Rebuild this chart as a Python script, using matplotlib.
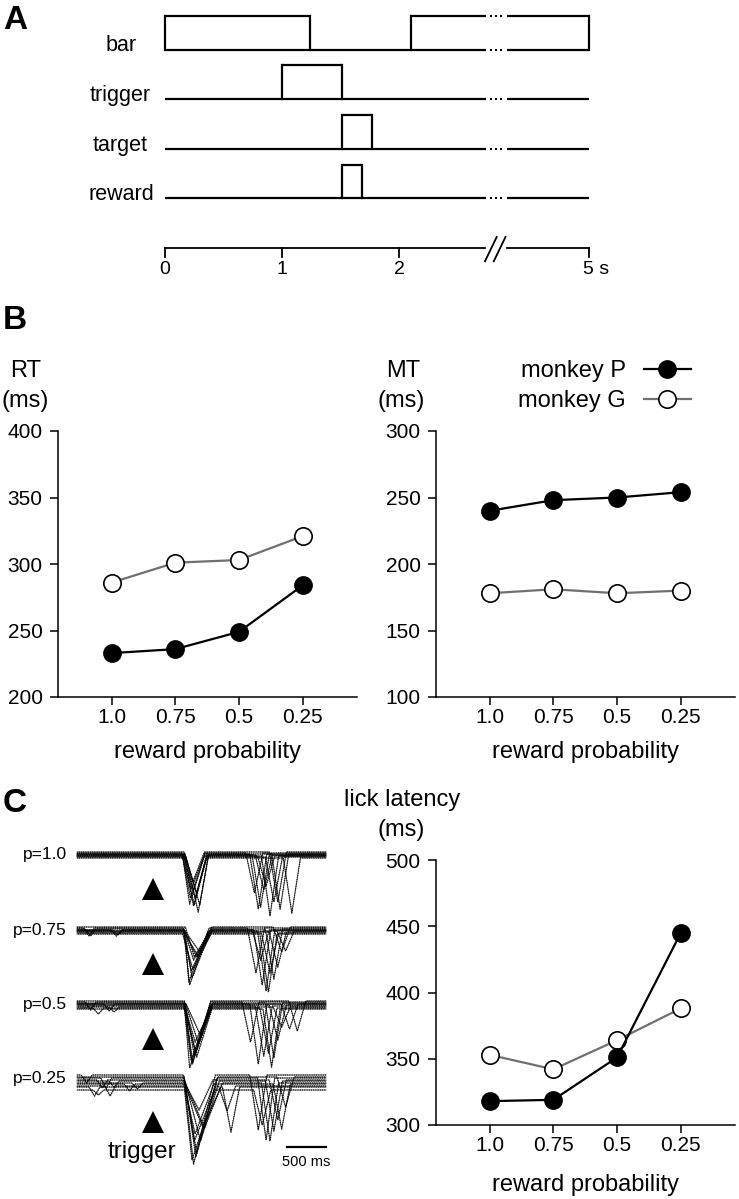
import matplotlib.pyplot as plt
from matplotlib.lines import Line2D

plt.rcParams['font.family'] = ['Liberation Sans', 'DejaVu Sans']

W, H = 739, 1199

# ---------------- data ----------------
# panel A: task timing (s)
rows_a = ['bar', 'trigger', 'target', 'reward']
on_periods = [[(0.0, 1.24), (2.10, 5.0)], [(1.0, 1.51)], [(1.51, 1.77)], [(1.51, 1.68)]]
time_ticks = [0, 1, 2, 5]
time_ticklabels = ['0', '1', '2', '5 s']
T_END = 5.0

# panel B / C: behaviour
probs = ['1.0', '0.75', '0.5', '0.25']
rt_P = [233, 236, 249, 284]
rt_G = [286, 301, 303, 321]
mt_P = [240, 248, 250, 254]
mt_G = [178, 181, 178, 180]
lick_P = [318, 319, 351, 445]
lick_G = [353, 342, 364, 388]

# panel C: lick traces (ms from trigger, deflection in a.u., positive = down)
cond_labels = ['p=1.0', 'p=0.75', 'p=0.5', 'p=0.25']
base_off = [[-2, -1, 0, 1, 2, -3, 1, 0, -1, 3],
            [-2, 0, 1, 3, -1, 2, 4, 0, -3, 1],
            [-2, 0, 2, 4, -1, 1, 3, 0, -3, 5],
            [-3, 0, 3, 6, 9, 12, 2, 5, -1, 8]]
lick1_on = [[370, 390, 410, 380, 420, 400, 395, 415, 405, 385],
            [390, 400, 385, 410, 395, 405, 380, 400, 415, 390],
            [400, 410, 420, 405, 415, 395, 410, 425, 400, 415],
            [390, 400, 410, 395, 420, 405, 385, 415, 400, 410]]
lick1_t = [[480, 520, 560, 470, 580, 510, 540, 600, 490, 530],
           [470, 520, 580, 500, 560, 460, 510, 600, 530, 490],
           [470, 500, 530, 550, 580, 490, 540, 600, 510, 560],
           [520, 560, 610, 540, 640, 500, 590, 660, 550, 530]]
lick1_d = [[45, 52, 38, 48, 55, 30, 42, 50, 35, 47],
           [57, 30, 25, 45, 28, 50, 35, 22, 30, 40],
           [66, 60, 50, 45, 40, 55, 35, 30, 62, 48],
           [89, 75, 60, 50, 40, 70, 30, 45, 80, 55]]
lick1_end = [[670, 690, 700, 660, 710, 660, 690, 710, 665, 685],
             [720, 740, 760, 730, 750, 700, 745, 760, 755, 720],
             [740, 750, 765, 745, 760, 735, 750, 765, 740, 755],
             [800, 820, 850, 780, 870, 800, 770, 890, 830, 810]]
lick2_t = [[1300, 1350, 1420, 1500, 1550, 1600, 1450, 1380, 1630, 1780],
           [1320, 1400, 1450, 1500, 1550, 1600, 1480, 1380, 1650, 1700],
           [1250, 1350, 1420, 1480, 1550, 1600, 1650, 1750, 1850, 1520],
           [1350, 1450, 1550, 1650, 1000, 1400, 1600, 1500, 1700, 950]]
lick2_d = [[40, 55, 35, 60, 45, 50, 30, 52, 55, 55],
           [45, 55, 60, 40, 50, 35, 58, 30, 25, 20],
           [40, 60, 50, 45, 55, 35, 20, 25, 30, 58],
           [55, 62, 50, 45, 45, 35, 40, 58, 30, 25]]
pre_t = [[0] * 10,
         [-820, -470, 0, 0, -800, 0, 0, -450, 0, 0],
         [-800, -560, 0, -700, 0, 0, -500, 0, 0, 0],
         [-850, -600, -500, -300, -750, -700, -650, -200, 0, -550]]
pre_d = [[0] * 10,
         [8, 6, 0, 0, 7, 0, 0, 5, 0, 0],
         [8, 7, 0, 6, 0, 0, 5, 0, 0, 0],
         [8, 10, 6, 7, 9, 5, 8, 6, 0, 10]]
SCALE_MS = 500


def box(l, t, r, b):
    return [l / W, 1 - b / H, (r - l) / W, (b - t) / H]


fig = plt.figure(figsize=(W / 100, H / 100), dpi=100)

# ---------------- panel A ----------------
axA = fig.add_axes(box(0, 0, W, 300))
axA.set_xlim(-165 / 117, (W - 165) / 117)
axA.set_ylim(-(300 - 49.5) / 49.6, 49.5 / 49.6)
axA.axis('off')

CUT, GAP_END, END_POS = 2.74, 2.92, 3.62


def tpos(t):
    if t <= CUT:
        return t
    return CUT + (t - CUT) * (END_POS - CUT) / (T_END - CUT)


def hline(ax, a, b, y):
    pa, pb = tpos(a), tpos(b)
    if pa < CUT and pb > GAP_END:
        ax.plot([pa, CUT], [y, y], color='black', lw=1.6, solid_capstyle='butt')
        ax.plot([GAP_END, pb], [y, y], color='black', lw=1.6, solid_capstyle='butt')
        ax.plot([2.785, 2.83, 2.875], [y] * 3, 's', color='black', ms=1.6, mew=0)
    else:
        ax.plot([pa, pb], [y, y], color='black', lw=1.6, solid_capstyle='butt')


HI = 0.68
label_x = [-0.24, -0.12, -0.145, -0.095]
for i, name in enumerate(rows_a):
    y0 = -i
    hline(axA, 0, T_END, y0)
    for a, b in on_periods[i]:
        hline(axA, a, b, y0 + HI)
        axA.plot([tpos(a)] * 2, [y0, y0 + HI], color='black', lw=1.6)
        axA.plot([tpos(b)] * 2, [y0, y0 + HI], color='black', lw=1.6)
    axA.text(label_x[i], y0 - 0.04, name, ha='right', va='baseline', fontsize=15.5)

# time axis
ya = -4
axA.plot([0, CUT - 0.005], [ya, ya], color='black', lw=1.3)
axA.plot([GAP_END, END_POS], [ya, ya], color='black', lw=1.3)
axA.plot([2.735, 2.835], [ya - 0.27, ya + 0.22], color='black', lw=1.3)
axA.plot([2.81, 2.91], [ya - 0.27, ya + 0.22], color='black', lw=1.3)
for t, lab in zip(time_ticks, time_ticklabels):
    x = tpos(t)
    axA.plot([x, x], [ya, ya - 0.18], color='black', lw=1.3)
    if lab.endswith('s'):
        axA.text(x - 0.05, ya - 0.26, lab, ha='left', va='top', fontsize=14)
    else:
        axA.text(x, ya - 0.26, lab, ha='center', va='top', fontsize=14)

# ---------------- panel B / C right ----------------
xs = [1, 2, 3, 4]


def line_panel(rect, yP, yG, ylim):
    ax = fig.add_axes(box(*rect))
    ax.plot(xs, yG, color='#707070', lw=1.6, marker='o', ms=12.5, mfc='white',
            mec='black', mew=1.2, zorder=3, label='monkey G')
    ax.plot(xs, yP, color='black', lw=1.6, marker='o', ms=12.5, mfc='black',
            mec='black', zorder=4, label='monkey P')
    ax.set_xlim(0.16, 4.85)
    ax.set_ylim(*ylim)
    ax.set_yticks(range(ylim[0], ylim[1] + 1, 50))
    ax.set_xticks(xs)
    ax.set_xticklabels(probs)
    for s in ['top', 'right']:
        ax.spines[s].set_visible(False)
    for s in ['left', 'bottom']:
        ax.spines[s].set_linewidth(1.1)
    ax.tick_params(length=6, width=1.1, labelsize=15)
    ax.tick_params(axis='x', pad=2)
    ax.tick_params(axis='y', pad=5)
    return ax


axRT = line_panel((58, 431, 357, 697), rt_P, rt_G, (200, 400))
axMT = line_panel((436, 431, 735, 697), mt_P, mt_G, (100, 300))
axLK = line_panel((436, 860, 735, 1125), lick_P, lick_G, (300, 500))


def ftext(x, y, s, **kw):
    fig.text(x / W, 1 - y / H, s, **kw)


ftext(26, 371, 'RT', ha='center', va='center', fontsize=17)
ftext(25, 401, '(ms)', ha='center', va='center', fontsize=17)
ftext(403, 371, 'MT', ha='center', va='center', fontsize=17)
ftext(401, 401, '(ms)', ha='center', va='center', fontsize=17)
ftext(402, 800, 'lick latency', ha='center', va='center', fontsize=17)
ftext(401, 830, '(ms)', ha='center', va='center', fontsize=17)
ftext(207, 752, 'reward probability', ha='center', va='center', fontsize=17)
ftext(585, 752, 'reward probability', ha='center', va='center', fontsize=17)
ftext(585, 1185, 'reward probability', ha='center', va='center', fontsize=17)

handles = [Line2D([], [], color='black', lw=1.6, marker='o', ms=12.5, mfc='black', mec='black'),
           Line2D([], [], color='#707070', lw=1.6, marker='o', ms=12.5, mfc='white', mec='black', mew=1.2)]
axMT.legend(handles, ['monkey P', 'monkey G'], markerfirst=False, frameon=False,
            loc='upper right', bbox_to_anchor=(691 / W, 1 - 360 / H),
            bbox_transform=fig.transFigure, borderpad=0, borderaxespad=0,
            fontsize=17, handlelength=2.0, handletextpad=0.76, labelspacing=0.33)

# panel letters
for lab, y in [('A', 5), ('B', 305), ('C', 788)]:
    ftext(3, y, lab, ha='left', va='top', fontsize=24, fontweight='bold')

# ---------------- panel C left: lick traces ----------------
PXMS = 39 / 500
axT = fig.add_axes(box(77, 840, 326, 1180))
T0, T1 = (77 - 153) / PXMS, (326 - 153) / PXMS
axT.set_xlim(T0, T1)
axT.set_ylim(-325, 15)
axT.axis('off')

row_y = [0, -75, -149, -223]
tri_off = [34, 34, 35, 44]
for r in range(4):
    for i in range(len(base_off[r])):
        tx = [T0]
        ty = [0]
        if pre_d[r][i] > 0:
            tx += [pre_t[r][i] - 70, pre_t[r][i], pre_t[r][i] + 70]
            ty += [0, pre_d[r][i], 0]
        tx += [lick1_on[r][i], lick1_t[r][i], lick1_end[r][i],
               lick2_t[r][i] - 110, lick2_t[r][i], lick2_t[r][i] + 110, T1]
        ty += [0, lick1_d[r][i], 0, 0, lick2_d[r][i], 0, 0]
        yy = [row_y[r] - base_off[r][i] - v for v in ty]
        axT.plot(tx, yy, color='black', lw=0.6, alpha=0.8, clip_on=False)
        axT.plot(tx, yy, color='black', lw=1.0,
                 linestyle=(i * 0.37, (0.5, 1.1)), clip_on=False)
    axT.plot([0], [row_y[r] - tri_off[r]], marker='^', ms=15.5, color='black',
             mew=0, clip_on=False)
    axT.text((67 - 153) / PXMS, row_y[r], cond_labels[r], ha='right',
             va='center', fontsize=12.5, clip_on=False)

axT.text((142 - 153) / PXMS, -297, 'trigger', ha='center', va='center', fontsize=17.5)
axT.plot([T1 - SCALE_MS, T1], [-292, -292], color='black', lw=1.6, clip_on=False)
axT.text(T1 - SCALE_MS / 2, -307, '500 ms', ha='center', va='center', fontsize=10.5)

fig.savefig('out.png', dpi=100)
